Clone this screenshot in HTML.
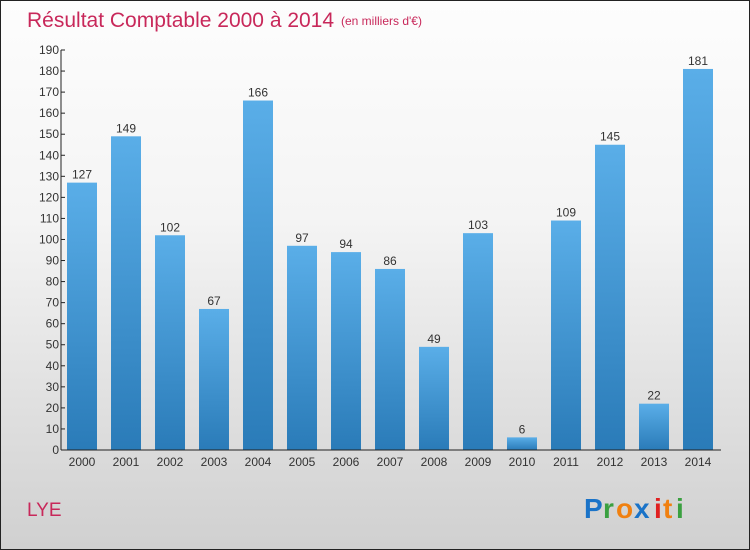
<!DOCTYPE html>
<html><head><meta charset="utf-8"><style>
body{margin:0;}
#c{width:748px;height:548px;border:1px solid #222;background:linear-gradient(#fdfdfd,#f4f4f4 40%,#d0d0d0);position:relative;overflow:hidden;font-family:"Liberation Sans",sans-serif;}
</style></head><body>
<div id="c">
<svg id="s" width="748" height="548">
<defs><linearGradient id="g" x1="0" y1="0" x2="0" y2="1"><stop offset="0" stop-color="#5aaee8"/><stop offset="1" stop-color="#2a7bb8"/></linearGradient></defs>
<text x="26" y="26" font-size="21" fill="#c8285a">Résultat Comptable 2000 à 2014</text>
<text x="340" y="24" font-size="12" fill="#c8285a">(en milliers d'€)</text>
<text x="26" y="515" font-size="19" fill="#c8285a">LYE</text>
<g font-size="28" font-weight="bold">
<text x="583" y="517" fill="#1a73c8">P</text><text x="602" y="517" fill="#3aa040">r</text><text x="615" y="517" fill="#f08010">o</text><text x="633" y="517" fill="#1a73c8">x</text><text x="653" y="517" fill="#e02020">i</text><text x="662" y="517" fill="#f08010">t</text><text x="675" y="517" fill="#3aa040">i</text>
</g>
<g id="plot"></g>
</svg></div>
<script>
const categories=["2000","2001","2002","2003","2004","2005","2006","2007","2008","2009","2010","2011","2012","2013","2014"];
const values=[127,149,102,67,166,97,94,86,49,103,6,109,145,22,181];
const ticks=[0,10,20,30,40,50,60,70,80,90,100,110,120,130,140,150,160,170,180,190];
const NS="http://www.w3.org/2000/svg";
const g=document.getElementById('plot');
const x0=60,y0=449,yTop=49,maxV=190;
const y=v=>y0-(v/maxV)*(y0-yTop);
const xc=i=>81+i*44;
function el(t,a,p){const e=document.createElementNS(NS,t);for(const k in a)e.setAttribute(k,a[k]);(p||g).appendChild(e);return e;}
values.forEach((v,i)=>{
 const r=el('rect',{x:xc(i)-15,y:y(v),width:30,height:y0-y(v),fill:'url(#g)'});
 
 
 const t=el('text',{x:xc(i),y:y(v)-4,'text-anchor':'middle','font-size':12,fill:'#333'});
 t.textContent=v;
 
 
 const l=el('text',{x:xc(i),y:y0+16,'text-anchor':'middle','font-size':12,fill:'#333'});
 l.textContent=categories[i];
 
 
});
ticks.forEach(v=>{
 el('line',{x1:x0,x2:x0+4,y1:y(v),y2:y(v),stroke:'#222'});
 const t=el('text',{x:x0-2,y:y(v)+4,'text-anchor':'end','font-size':12,fill:'#333'});
 t.textContent=v;
 
 
});
const ya=el('line',{x1:x0,x2:x0,y1:yTop,y2:y0,stroke:'#222'});


const xa=el('line',{x1:x0,x2:720,y1:y0,y2:y0,stroke:'#222'});


</script>
</body></html>
